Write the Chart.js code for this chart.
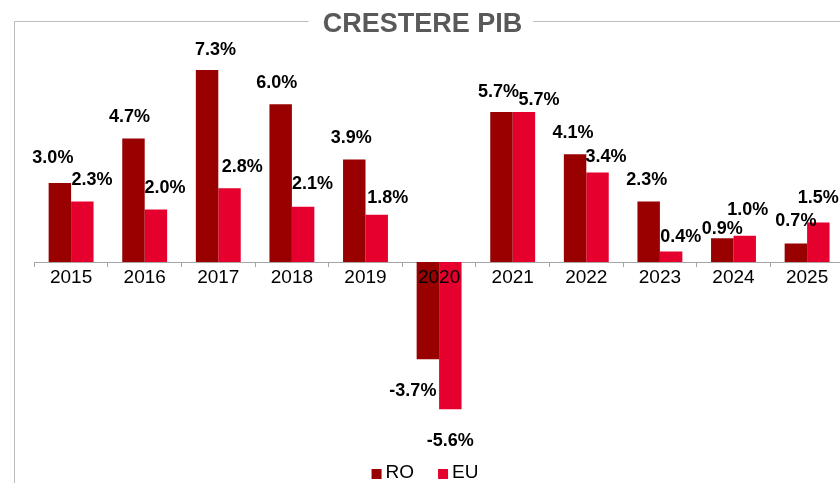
<!DOCTYPE html>
<html><head><meta charset="utf-8">
<script src="https://cdn.jsdelivr.net/npm/chart.js@4"></script>
<style>
html,body{margin:0;padding:0;background:#fff;overflow:hidden;width:840px;height:483px;}
#wrap{position:relative;width:850px;height:483px;}
canvas{display:block;}
</style></head><body>
<div id="wrap"><canvas id="c" width="850" height="483"></canvas></div>
<script>
const categories = ['2015','2016','2017','2018','2019','2020','2021','2022','2023','2024','2025'];
const roValues = [3.0, 4.7, 7.3, 6.0, 3.9, -3.7, 5.7, 4.1, 2.3, 0.9, 0.7];
const euValues = [2.3, 2.0, 2.8, 2.1, 1.8, -5.6, 5.7, 3.4, 0.4, 1.0, 1.5];
const seriesNames = ['RO', 'EU'];
const titleText = 'CRESTERE PIB';

// label placement nudges (style only): horizontal shift and gap from bar end, px
const labelNudge = {
  ro: { dx: [-7, -4, 8.5, -4, -3, -15, -3, -2, -2, 0, 0],
        gap: [20, 16.6, 15, 16.6, 16.6, 24, 14.6, 16.6, 17, 4.4, 17.7] },
  eu: { dx: [9.7, 9, 12.8, 9.3, 11, 0, 15, 8.5, 9.6, 3, 0],
        gap: [17, 16, 16, 17.5, 11.5, 24, 7, 10.6, 9, 21, 19.4] }
};

const FONT = '"Liberation Sans", Arial, sans-serif';
const colors = ['#990000', '#E6002E'];

const decor = {
  id: 'decor',
  afterDatasetsDraw(chart) {
    const ctx = chart.ctx;
    ctx.save();
    ctx.font = 'bold 18px ' + FONT;
    ctx.fillStyle = '#000';
    ctx.textAlign = 'center';
    ctx.textBaseline = 'alphabetic';
    const keys = ['ro', 'eu'];
    chart.data.datasets.forEach((ds, di) => {
      const meta = chart.getDatasetMeta(di);
      const nud = labelNudge[keys[di]];
      meta.data.forEach((el, j) => {
        const v = ds.data[j];
        const txt = v.toFixed(1) + '%';
        const x = el.x + nud.dx[j];
        let y;
        if (v >= 0) y = el.y - nud.gap[j];
        else y = el.y + nud.gap[j] + 13;
        ctx.fillText(txt, x, y);
      });
    });
    ctx.restore();
  },
  afterDraw(chart) {
    const ctx = chart.ctx;
    ctx.save();
    // title
    ctx.font = 'bold 27px ' + FONT;
    ctx.fillStyle = '#595959';
    ctx.textAlign = 'center';
    ctx.textBaseline = 'alphabetic';
    const tx = 422.4;
    ctx.fillText(titleText, tx, 31.7);
    const tw = ctx.measureText(titleText).width;
    // frame
    ctx.strokeStyle = '#BDBDBD';
    ctx.lineWidth = 1;
    ctx.beginPath();
    ctx.moveTo(14.5, 483);
    ctx.lineTo(14.5, 21.5);
    ctx.lineTo(tx - tw / 2 - 14, 21.5);
    ctx.moveTo(tx + tw / 2 + 11, 21.5);
    ctx.lineTo(850, 21.5);
    ctx.stroke();
    // legend
    ctx.font = '19px ' + FONT;
    ctx.textAlign = 'left';
    ctx.textBaseline = 'middle';
    const box = 10, gap = 4, spacing = 24;
    const widths = seriesNames.map(n => box + gap + ctx.measureText(n).width);
    const total = widths.reduce((a, b) => a + b, 0) + spacing * (widths.length - 1);
    let x = 425 - total / 2;
    const yc = 474;
    seriesNames.forEach((n, i) => {
      ctx.fillStyle = colors[i];
      ctx.fillRect(x, yc - box / 2, box, box);
      ctx.fillStyle = '#000';
      ctx.fillText(n, x + box + gap, yc - 1);
      x += widths[i] + spacing;
    });
    ctx.restore();
  }
};

new Chart(document.getElementById('c'), {
  type: 'bar',
  data: {
    labels: categories,
    datasets: [
      { label: seriesNames[0], data: roValues, backgroundColor: colors[0], borderWidth: 0,
        categoryPercentage: 0.61, barPercentage: 1.0 },
      { label: seriesNames[1], data: euValues, backgroundColor: colors[1], borderWidth: 0,
        categoryPercentage: 0.61, barPercentage: 1.0 }
    ]
  },
  options: {
    responsive: false,
    animation: false,
    devicePixelRatio: 1,
    layout: { padding: { left: 34.3, right: 6.1, top: 51.6, bottom: 36.9 } },
    plugins: { legend: { display: false }, title: { display: false }, tooltip: { enabled: false } },
    scales: {
      y: { display: false, min: -7, max: 8 },
      x: {
        position: { y: 0 },
        offset: true,
        grid: { display: true, drawOnChartArea: false, drawTicks: true, tickLength: 4,
                color: '#A6A6A6', offset: true },
        border: { display: true, color: '#A6A6A6', width: 1, z: -1 },
        ticks: { font: { family: FONT, size: 19 }, color: '#000', padding: 0,
                 maxRotation: 0, autoSkip: false, z: 1 },
        afterFit(s) { s.height = 0; }
      }
    }
  },
  plugins: [decor]
});
</script>
</body></html>
